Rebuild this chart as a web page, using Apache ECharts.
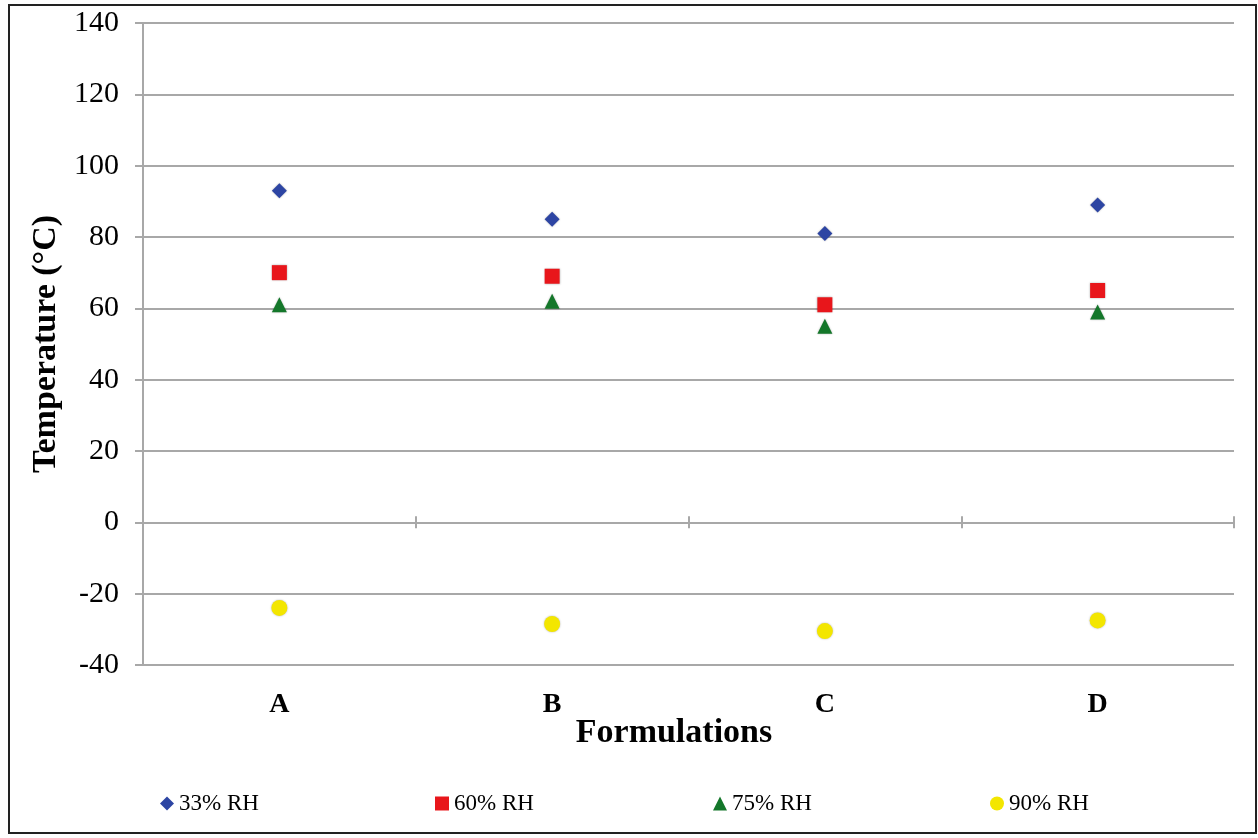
<!DOCTYPE html>
<html>
<head>
<meta charset="utf-8">
<script src="https://cdn.jsdelivr.net/npm/echarts@6/dist/echarts.min.js"></script>
<style>html,body{margin:0;padding:0;background:#fff}#c{width:1258px;height:838px}</style>
</head>
<body>
<div id="c"></div>
<script>
const categories = ['A', 'B', 'C', 'D'];
const rh33 = [93, 85, 81, 89];
const rh60 = [70, 69, 61, 65];
const rh75 = [61, 62, 55, 59];
const rh90 = [-24, -28.5, -30.5, -27.5];
const seriesNames = ['33% RH', '60% RH', '75% RH', '90% RH'];
const yTicks = {min: -40, max: 140, interval: 20};
const xTitle = 'Formulations';
const yTitle = 'Temperature (°C)';

const font = 'Liberation Serif, Times New Roman, serif';
const gridColor = '#a8a8a8';

const chart = echarts.init(document.getElementById('c'));
const mk = (name, data, symbol, size, color) => ({
  name, type: 'scatter', data, symbol, symbolSize: size,
  itemStyle: {color, opacity: 1, shadowBlur: 2, shadowColor: 'rgba(0,0,0,0.3)'}, z: 5
});
const legend = (name, left) => ({
  data: [name], left, top: 787, itemWidth: 14, itemHeight: 14, itemGap: 4,
  textStyle: {fontFamily: font, fontSize: 23, color: '#000'}
});
const zeroAxis = (inside) => ({
  type: 'category', data: categories,
  axisLine: {onZero: true, onZeroAxisIndex: 0, lineStyle: {color: gridColor, width: 2}},
  axisTick: {show: true, inside, length: 6, lineStyle: {color: gridColor, width: 2}},
  axisLabel: {show: false}, splitLine: {show: false}
});
chart.setOption({
  animation: false,
  backgroundColor: '#fff',
  graphic: [
    {type: 'rect', shape: {x: 9, y: 5, width: 1247, height: 828},
     style: {fill: 'none', stroke: '#222', lineWidth: 2}, z: 100},
    {type: 'text', x: 674, y: 733, style: {text: xTitle, fontFamily: font, fontSize: 34, fontWeight: 'bold',
     fill: '#000', align: 'center', verticalAlign: 'middle'}}
  ],
  grid: {left: 143, right: 24, top: 23, bottom: 173},
  legend: [legend(seriesNames[0], 155), legend(seriesNames[1], 430), legend(seriesNames[2], 708), legend(seriesNames[3], 985)],
  xAxis: [
    {type: 'category', data: categories, position: 'bottom',
     axisLine: {show: false, onZero: false}, axisTick: {show: false},
     axisLabel: {fontFamily: font, fontSize: 28, fontWeight: 'bold', color: '#000', margin: 26}},
    zeroAxis(false),
    zeroAxis(true)
  ],
  yAxis: {type: 'value', min: yTicks.min, max: yTicks.max, interval: yTicks.interval,
    axisLine: {show: true, onZero: false, lineStyle: {color: gridColor, width: 2}},
    axisTick: {show: true, length: 8, lineStyle: {color: gridColor, width: 2}},
    splitLine: {lineStyle: {color: gridColor, width: 2}},
    axisLabel: {fontFamily: font, fontSize: 30, color: '#000', margin: 24},
    name: yTitle, nameLocation: 'middle', nameGap: 80,
    nameTextStyle: {fontFamily: font, fontSize: 34, fontWeight: 'bold', color: '#000'}},
  series: [
    mk(seriesNames[0], rh33, 'diamond', 15, '#2d45a3'),
    mk(seriesNames[1], rh60, 'rect', 15, '#e8161b'),
    mk(seriesNames[2], rh75, 'triangle', 15, '#14772a'),
    mk(seriesNames[3], rh90, 'circle', 16, '#f3e600')
  ]
});
</script>
</body>
</html>
